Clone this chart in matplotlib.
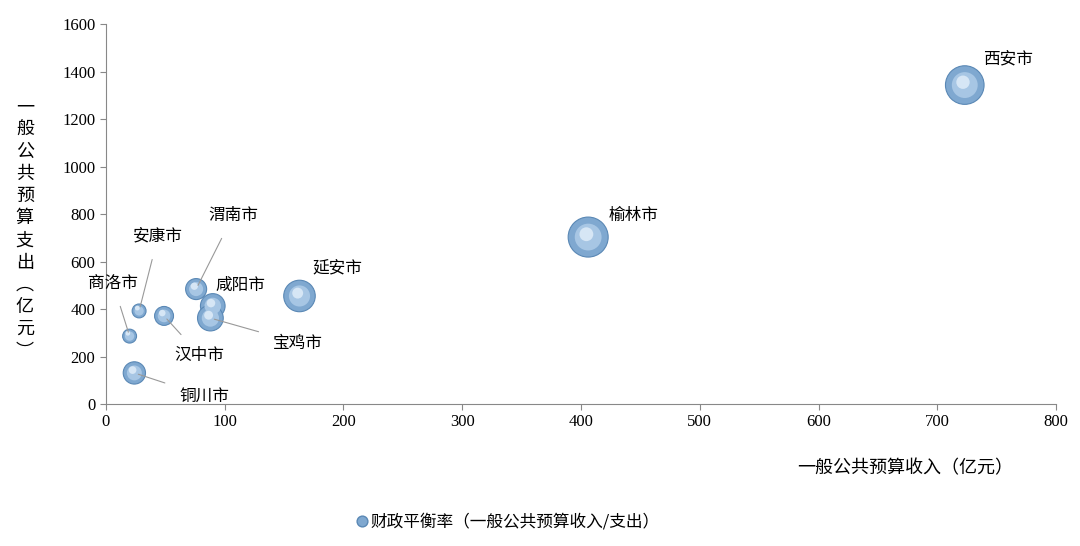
import matplotlib
matplotlib.use("Agg")
import matplotlib.pyplot as plt

plt.rcParams["font.family"] = ["Noto Sans CJK SC", "DejaVu Sans"]

cities = ["西安市", "榆林市", "延安市", "咸阳市", "宝鸡市", "渭南市", "汉中市", "安康市", "商洛市", "铜川市"]
income = [723, 406, 163, 90, 88, 76, 49, 28, 20, 24]
expense = [1343, 703, 455, 413, 362, 484, 371, 392, 286, 131]
balance = [0.54, 0.58, 0.36, 0.22, 0.24, 0.16, 0.13, 0.07, 0.07, 0.18]

# label anchor (data coords) and whether a leader line is drawn
label_pos = {
    "西安市": (759, 1453, False), "榆林市": (444, 792, False), "延安市": (195, 573, False),
    "咸阳市": (113, 501, False), "宝鸡市": (162, 257, True), "渭南市": (107, 792, True),
    "汉中市": (79, 206, True), "安康市": (44, 707, True), "商洛市": (6, 509, True),
    "铜川市": (83, 34, True),
}

fig = plt.figure(figsize=(10.8, 5.46), dpi=100)
ax = fig.add_axes([0.098, 0.260, 0.880, 0.696])

sizes = [b * 1430 for b in balance]
ax.scatter(income, expense, s=sizes, color="#7fa8d0", edgecolor="#5a88b5", linewidth=0.8, zorder=3)
ax.scatter(income, expense, s=[s * 0.45 for s in sizes], color="#a7c6e4", edgecolor="none", zorder=4)
ax.scatter([x - 1.5 for x in income], [y + 12 for y in expense], s=[s * 0.12 for s in sizes],
           color="#d6e6f5", edgecolor="none", zorder=5)

for name, x, y in zip(cities, income, expense):
    lx, ly, line = label_pos[name]
    if line:
        ax.annotate(name, xy=(x, y), xytext=(lx, ly), fontsize=12, ha="center", va="center",
                    arrowprops=dict(arrowstyle="-", color="#999999", lw=0.8, shrinkA=9, shrinkB=3),
                    zorder=6)
    else:
        ax.text(lx, ly, name, fontsize=12, ha="center", va="center", zorder=6)

ax.set_xlim(0, 800)
ax.set_ylim(0, 1600)
ax.set_xticks(range(0, 801, 100))
ax.set_yticks(range(0, 1601, 200))
for lab in ax.get_xticklabels() + ax.get_yticklabels():
    lab.set_fontfamily("Liberation Serif")
    lab.set_fontsize(12)
ax.spines["top"].set_visible(False)
ax.spines["right"].set_visible(False)
ax.spines["left"].set_color("#888888")
ax.spines["bottom"].set_color("#888888")
ax.tick_params(direction="out", color="#888888", length=4)

fig.text(0.838, 0.143, "一般公共预算收入（亿元）", fontsize=13, ha="center", va="center")
fig.text(0.023, 0.58, "\n".join("一般公共预算支出︵亿元︶"), fontsize=13, ha="center", va="center",
         linespacing=1.3)

lax = fig.add_axes([0.325, 0.03, 0.02, 0.03])
lax.scatter([0], [0], s=60, color="#7fa8d0", edgecolor="#5a88b5")
lax.axis("off")
fig.text(0.343, 0.044, "财政平衡率（一般公共预算收入/支出）", fontsize=12, ha="left", va="center")

fig.savefig("out.png", dpi=100)
